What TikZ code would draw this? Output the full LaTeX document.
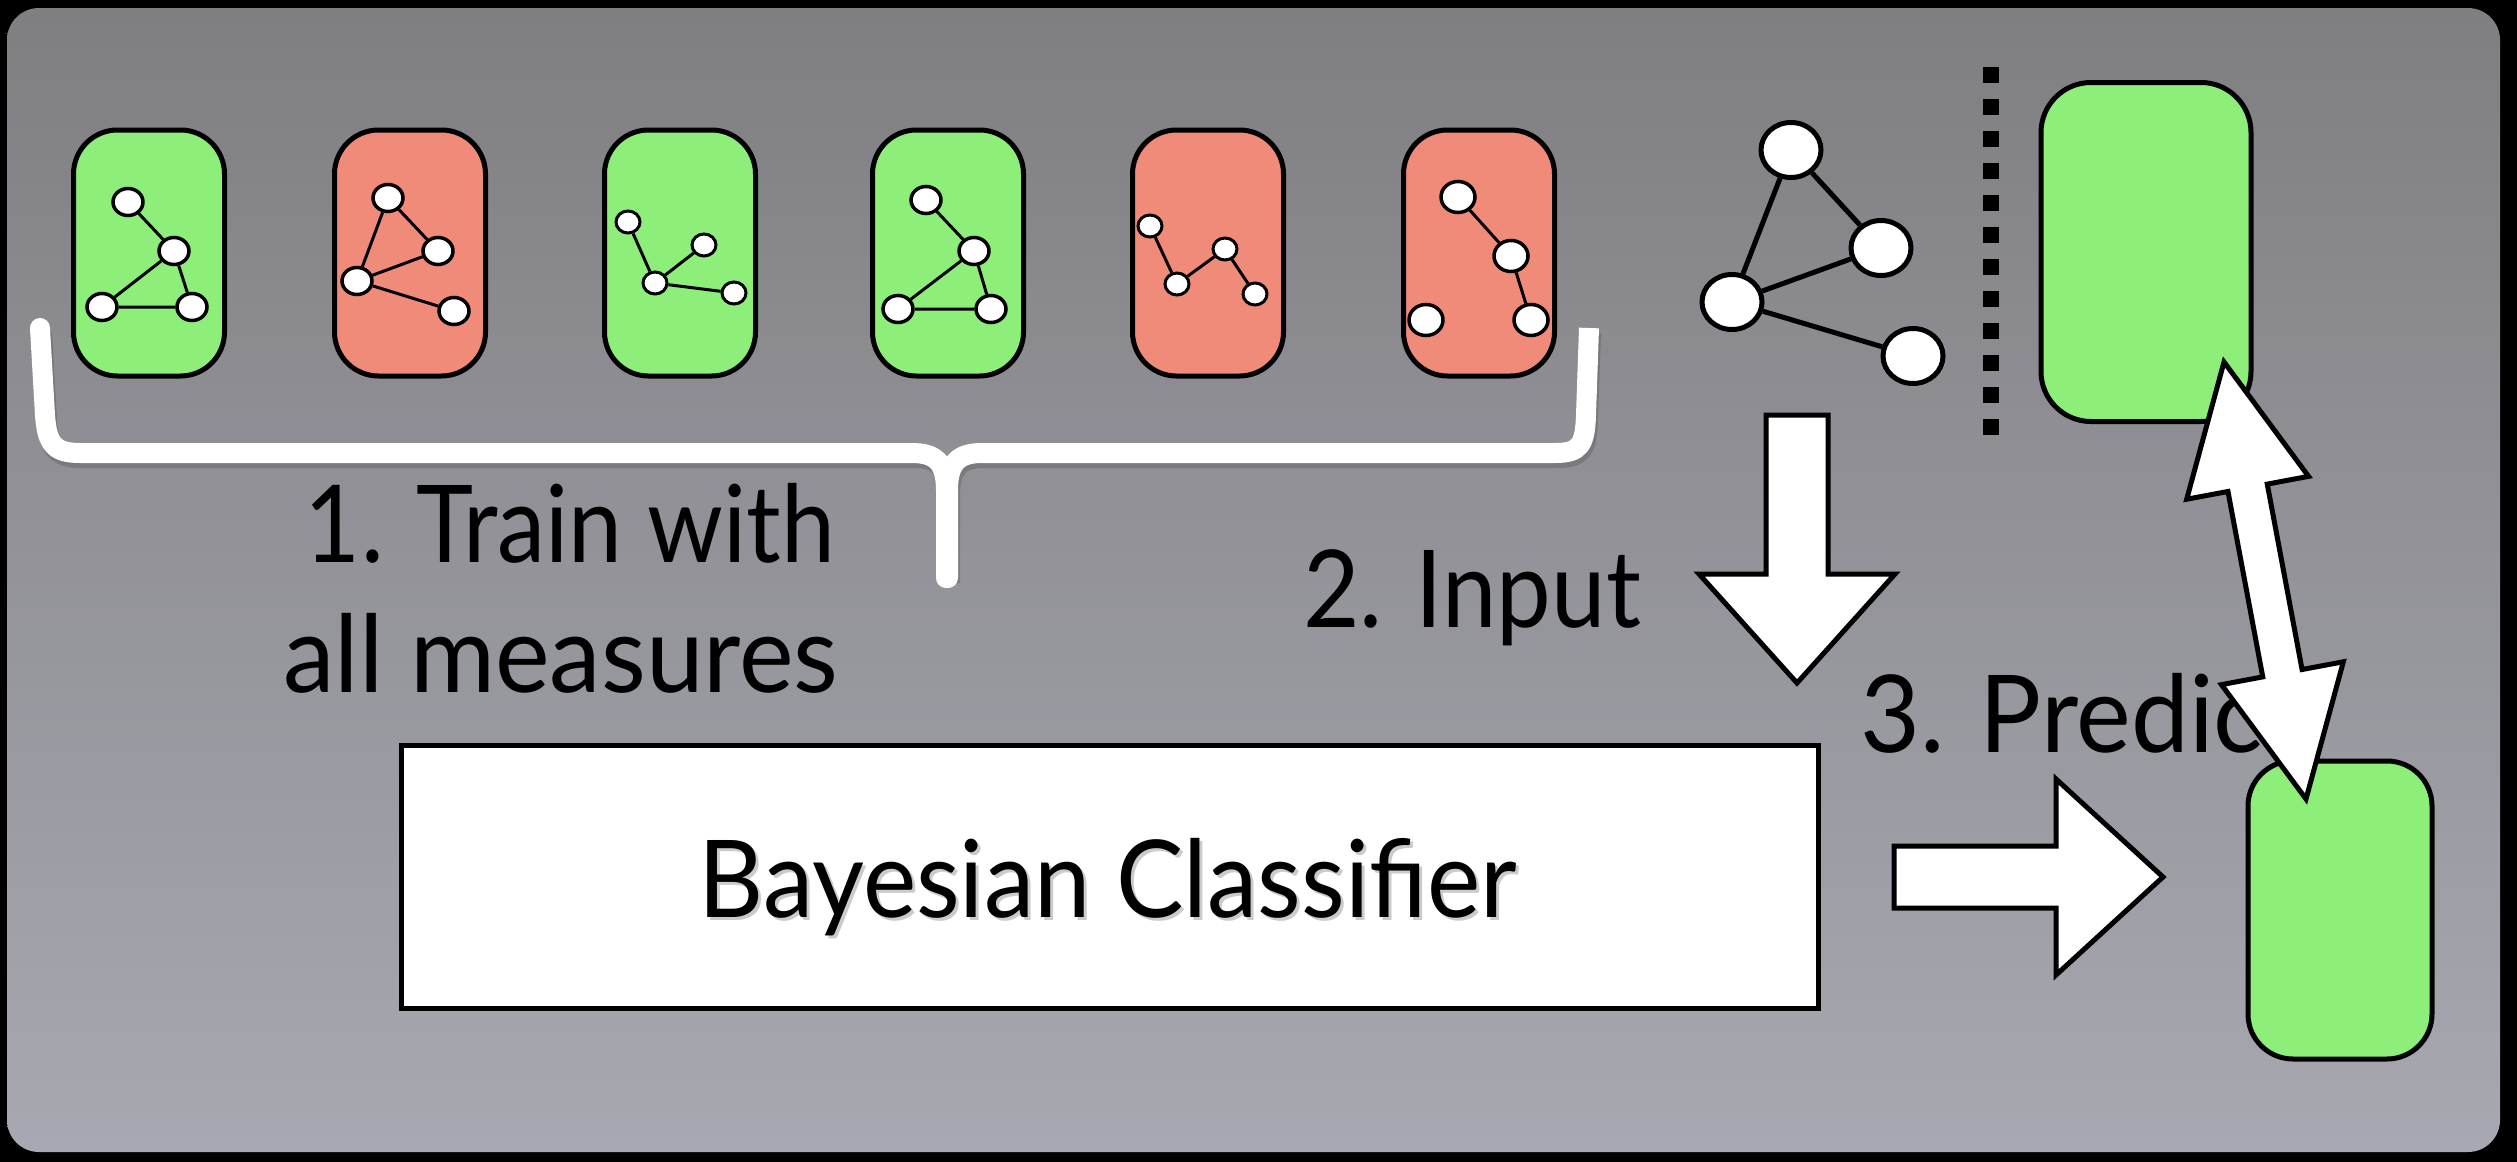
\documentclass[tikz,border=0pt]{standalone}
\usepackage{fontspec}
\usepackage{graphicx}
\setmainfont{Lato}
\usetikzlibrary{shapes.geometric,calc}
\definecolor{okgreen}{RGB}{141,238,122}
\definecolor{badred}{RGB}{240,139,122}
\definecolor{paneltop}{RGB}{127,127,130}
\definecolor{panelbot}{RGB}{168,168,178}
\newcommand\fitw[2]{\resizebox{#1}{\height}{#2}}
\newcommand\lblfont{\fontsize{107.5}{130}\selectfont}
\tikzset{
  card/.style={draw=black, line width=5pt, rounded corners=44pt, minimum width=151pt, minimum height=246pt, inner sep=0pt},
  good/.style={card, fill=okgreen},
  bad/.style={card, fill=badred},
  vtx/.style={ellipse, draw=black, fill=white, line width=3.5pt, minimum width=30pt, minimum height=27pt, inner sep=0pt},
  svtx/.style={vtx, line width=3pt, minimum width=24pt, minimum height=22pt},
  mvtx/.style={vtx, minimum width=34pt, minimum height=31pt},
  bvtx/.style={vtx, line width=5pt, minimum width=60pt, minimum height=55pt},
  edge/.style={line width=3pt},
  bedge/.style={line width=5pt},
  blockarrow/.style={draw=black, fill=white, line width=5pt, line join=miter},
  lbl/.style={inner sep=0pt, font=\lblfont, anchor=base},
  bracepath/.style={line width=20pt},
}
\newcommand\singlearrow[5]{%
  \path ($(#2)!#5!(#1)$) coordinate (hb);
  \draw[blockarrow] ($(#1)!#3!90:(#2)$) -- ($(hb)!#3!90:(#2)$) -- ($(hb)!#4!90:(#2)$) -- (#2)
    -- ($(hb)!#4!-90:(#2)$) -- ($(hb)!#3!-90:(#2)$) -- ($(#1)!#3!-90:(#2)$) -- cycle;}
\newcommand\doublearrow[5]{%
  \path ($(#1)!#5!(#2)$) coordinate (ha) ($(#2)!#5!(#1)$) coordinate (hb);
  \draw[blockarrow] (#1) -- ($(ha)!#4!90:(#2)$) -- ($(ha)!#3!90:(#2)$) -- ($(hb)!#3!-90:(#1)$)
    -- ($(hb)!#4!-90:(#1)$) -- (#2) -- ($(hb)!#4!90:(#1)$) -- ($(hb)!#3!90:(#1)$)
    -- ($(ha)!#3!-90:(#2)$) -- ($(ha)!#4!-90:(#2)$) -- cycle;}
\begin{document}
\begin{tikzpicture}[x=1pt,y=-1pt]
\useasboundingbox (0,0) rectangle (2517,1162);
\fill[black] (0,0) rectangle (2517,1162);
\shade[top color=paneltop, bottom color=panelbot, rounded corners=32pt] (7,8) rectangle (2500,1152);

% brace (shadow then white)
\begin{scope}[shift={(2,5)}, black, opacity=0.15]
\draw[bracepath] (40,328) -- (45,415) .. controls (47,445) and (55,453) .. (80,453) -- (912,453)
  .. controls (935,453) and (946,462) .. (946,490) -- (946,578);
\draw[bracepath] (948,578) -- (948,490) .. controls (948,462) and (959,453) .. (982,453) -- (1555,453)
  .. controls (1580,453) and (1585,445) .. (1586,415) -- (1589,328);
\end{scope}
\draw[bracepath, white] (40,328) -- (45,415) .. controls (47,445) and (55,453) .. (80,453) -- (912,453)
  .. controls (935,453) and (946,462) .. (946,490) -- (946,578) [line cap=round];
\draw[bracepath, white, line cap=round] (948,578) -- (948,490) .. controls (948,462) and (959,453) .. (982,453) -- (1555,453)
  .. controls (1580,453) and (1585,445) .. (1586,415);
\draw[bracepath, white] (1586,415) -- (1589,328);

% training cards
\node[good] (k1) at (149,253) {};
\node[vtx] (a1) at (128,202) {};
\node[vtx] (a2) at (174,251) {};
\node[vtx] (a3) at (102,307) {};
\node[vtx] (a4) at (192,307) {};
\draw[edge] (a1)--(a2) (a2)--(a3) (a2)--(a4) (a3)--(a4);

\node[bad] (k2) at (410,253) {};
\node[vtx] (b1) at (388,198) {};
\node[vtx] (b2) at (438,251) {};
\node[vtx] (b3) at (357,281) {};
\node[vtx] (b4) at (454,311) {};
\draw[edge] (b1)--(b2) (b1)--(b3) (b3)--(b2) (b3)--(b4);

\node[good] (k3) at (680,253) {};
\node[svtx] (c1) at (628,222) {};
\node[svtx] (c2) at (704,245) {};
\node[svtx] (c3) at (655,283) {};
\node[svtx] (c4) at (734,293) {};
\draw[edge] (c1)--(c3) (c3)--(c2) (c3)--(c4);

\node[good] (k4) at (948,253) {};
\node[vtx] (d1) at (926,200) {};
\node[vtx] (d2) at (974,251) {};
\node[vtx] (d3) at (898,309) {};
\node[vtx] (d4) at (991,309) {};
\draw[edge] (d1)--(d2) (d2)--(d3) (d2)--(d4) (d3)--(d4);

\node[bad] (k5) at (1208,253) {};
\node[svtx] (e1) at (1150,226) {};
\node[svtx] (e2) at (1225,249) {};
\node[svtx] (e3) at (1177,284) {};
\node[svtx] (e4) at (1255,294) {};
\draw[edge] (e1)--(e3) (e3)--(e2) (e2)--(e4);

\node[bad] (k6) at (1479,253) {};
\node[mvtx] (f1) at (1458,197) {};
\node[mvtx] (f2) at (1511,256) {};
\node[mvtx] (f3) at (1426,320) {};
\node[mvtx] (f4) at (1531,320) {};
\draw[edge] (f1)--(f2) (f2)--(f4);

% query graph
\node[bvtx] (g1) at (1791,150) {};
\node[bvtx] (g2) at (1881,248) {};
\node[bvtx] (g3) at (1732,302) {};
\node[bvtx] (g4) at (1913,356) {};
\draw[bedge] (g1)--(g3) (g1)--(g2) (g3)--(g2) (g3)--(g4);

% separator
\coordinate (sepTop) at (1991,67);
\coordinate (sepBot) at (1991,435);
\draw[line width=16pt, dash pattern=on 16pt off 16pt] (sepTop) -- (sepBot);

% true label box
\node[good, minimum width=210pt, minimum height=339pt, rounded corners=50pt] (truth) at (2146,252) {};

% classifier
\node[draw=black, fill=white, line width=5pt, minimum width=1417pt, minimum height=263pt, inner sep=0pt] (clf) at (1110,877) {};
\node[lbl, text=black!40, opacity=0.5] at ($(clf.center)+(1,43)$) {\fitw{818pt}{Bayesian Classifier}};
\node[lbl] (clftext) at ($(clf.center)+(-2,40)$) {\fitw{818pt}{Bayesian Classifier}};

% labels
\node[lbl] (train1) at (570,562) {\fitw{530pt}{1. Train with}};
\node[lbl] (train2) at (561,692) {\fitw{555pt}{all measures}};
\node[lbl] (inlbl) at (1472,627) {\fitw{338pt}{2. Input}};
\node[lbl, anchor=base west] (predlbl) at (1860,752) {\fitw{440pt}{3. Predict}};

% arrows
\coordinate (inTail) at (1797,415);
\coordinate (inTip) at (1797,683);
\singlearrow{inTail}{inTip}{31pt}{98pt}{109pt}
\coordinate (outTail) at (1894,877);
\coordinate (outTip) at (2163,877);
\singlearrow{outTail}{outTip}{31pt}{98pt}{107pt}

% predicted label box
\node[good, minimum width=184pt, minimum height=298pt, rounded corners=45pt] (pred) at (2340,910) {};

% comparison arrow
\coordinate (cmpA) at (2224,362);
\coordinate (cmpB) at (2306,799);
\doublearrow{cmpA}{cmpB}{20pt}{62pt}{128pt}
\end{tikzpicture}
\end{document}
